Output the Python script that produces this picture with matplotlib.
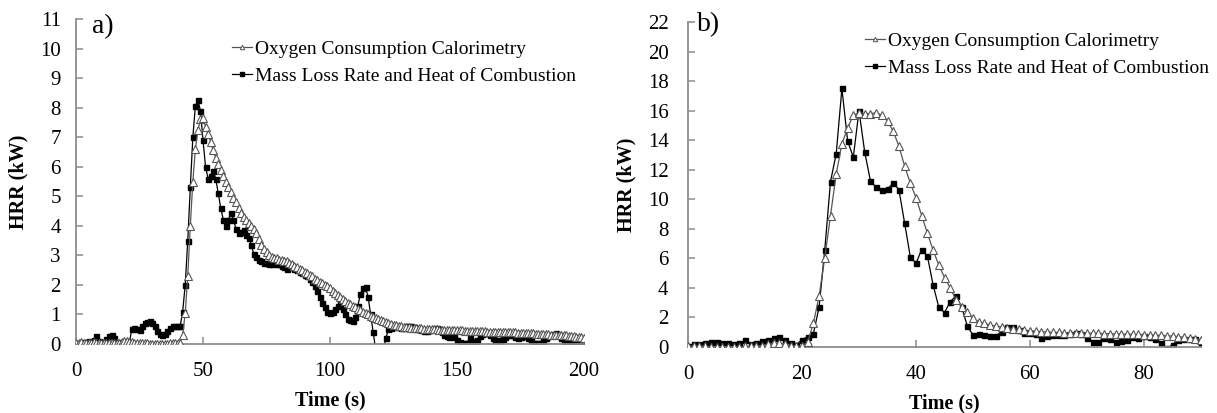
import matplotlib.pyplot as plt
from matplotlib.lines import Line2D

plt.rcParams["font.family"] = ["Liberation Serif", "DejaVu Serif"]

# ---- test a) : 0-200 s, 1 s samples ----
time_a = list(range(0, 201))
ox_a = [0.05, 0.02, 0.06, 0.03, 0.05, 0.04, 0.03, 0.06, 0.04, 0.05,
        0.04, 0.03, 0.02, 0.03, 0.02, 0.02, 0.03, 0.05, 0.08, 0.1,
        0.1, 0.08, 0.06, 0.05, 0.05, 0.04, 0.03, 0.02, 0.02, 0.01,
        0.01, 0.0, 0.0, 0.01, 0.0, 0.0, 0.01, 0.02, 0.02, 0.03,
        0.03, 0.05, 0.3, 1.05, 2.3, 4.0, 5.5, 6.6, 7.25, 7.6,
        7.65, 7.35, 7.1, 6.85, 6.55, 6.3, 6.1, 5.9, 5.7, 5.5,
        5.3, 5.15, 4.95, 4.8, 4.6, 4.45, 4.3, 4.2, 4.1, 4.0,
        3.9, 3.75, 3.55, 3.35, 3.2, 3.1, 3.0, 2.95, 2.9, 2.9,
        2.85, 2.85, 2.8, 2.8, 2.75, 2.7, 2.65, 2.6, 2.55, 2.5,
        2.45, 2.4, 2.35, 2.3, 2.2, 2.15, 2.1, 2.05, 2.0, 1.95,
        1.9, 1.8, 1.72, 1.65, 1.58, 1.52, 1.46, 1.4, 1.35, 1.3,
        1.25, 1.2, 1.15, 1.1, 1.05, 1.0, 0.96, 0.92, 0.88, 0.85,
        0.82, 0.78, 0.75, 0.72, 0.69, 0.66, 0.64, 0.62, 0.6, 0.58,
        0.57, 0.56, 0.55, 0.55, 0.54, 0.53, 0.53, 0.52, 0.52, 0.51,
        0.5, 0.5, 0.5, 0.49, 0.49, 0.48, 0.48, 0.47, 0.47, 0.47,
        0.46, 0.46, 0.46, 0.45, 0.45, 0.45, 0.44, 0.44, 0.44, 0.43,
        0.43, 0.43, 0.42, 0.42, 0.42, 0.41, 0.41, 0.41, 0.4, 0.4,
        0.4, 0.39, 0.39, 0.39, 0.38, 0.38, 0.38, 0.37, 0.37, 0.36,
        0.36, 0.35, 0.35, 0.34, 0.34, 0.33, 0.33, 0.32, 0.32, 0.31,
        0.31, 0.3, 0.3, 0.29, 0.28, 0.27, 0.26, 0.25, 0.24, 0.23,
        0.22]
ml_a = [0.02, 0.05, 0.03, 0.08, 0.05, 0.1, 0.06, 0.12, 0.28, 0.1,
        0.05, 0.08, 0.18, 0.28, 0.3, 0.2, 0.08, 0.02, 0.05, 0.08,
        0.1, 0.06, 0.5, 0.55, 0.5, 0.48, 0.6, 0.7, 0.75, 0.78,
        0.72, 0.6, 0.45, 0.35, 0.3, 0.35, 0.45, 0.55, 0.62, 0.6,
        0.62, 0.6, 1.1, 2.0, 3.5, 5.3, 7.0, 8.05, 8.25, 7.9,
        6.9, 6.0, 5.6, 5.7, 5.85, 5.6, 5.1, 4.6, 4.2, 4.0,
        4.2, 4.45, 4.2, 3.9, 3.75, 3.8, 3.85, 3.7, 3.6, 3.35,
        3.05, 2.95, 2.85, 2.8, 2.75, 2.75, 2.7, 2.72, 2.75, 2.7,
        2.72, 2.65, 2.6, 2.55, 2.6, 2.65, 2.55, 2.5, 2.45, 2.4,
        2.35, 2.3, 2.2, 2.1, 1.95, 1.8, 1.6, 1.4, 1.25, 1.1,
        1.05, 1.08, 1.2, 1.3, 1.35, 1.2, 1.0, 0.85, 0.8, 0.78,
        0.9, 1.3, 1.7, 1.9, 1.92, 1.6, 1.0, 0.4, -0.2, -0.6,
        -0.6, -0.2, 0.2, 0.5, 0.55, 0.58, 0.6, 0.58, 0.55, 0.55,
        0.6, 0.62, 0.6, 0.56, 0.52, 0.5, 0.48, 0.45, 0.45, 0.48,
        0.5, 0.52, 0.55, 0.5, 0.4, 0.32, 0.26, 0.25, 0.3, 0.25,
        0.15, 0.08, 0.03, 0.02, 0.05, 0.2, 0.1, 0.05, 0.15, 0.28,
        0.35, 0.38, 0.36, 0.3, 0.22, 0.15, 0.12, 0.12, 0.18, 0.25,
        0.3, 0.32, 0.3, 0.25, 0.22, 0.25, 0.3, 0.28, 0.2, 0.12,
        0.05, 0.02, 0.02, 0.05, 0.1, 0.2, 0.28, 0.32, 0.35, 0.36,
        0.3, 0.2, 0.1, 0.05, 0.05, 0.08, 0.1, 0.08, 0.06, 0.05,
        0.05]

# ---- test b) : 0-90 s, 1 s samples ----
time_b = list(range(0, 91))
ox_b = [0.05, 0.05, 0.05, 0.05, 0.0, 0.0, 0.0, 0.0, 0.0, 0.0,
        0.05, 0.05, 0.05, 0.1, 0.2, 0.25, 0.25, 0.2, 0.1, 0.05,
        0.05, 0.35, 1.6, 3.45, 6.05, 8.9, 11.7, 13.75, 14.8, 15.7,
        15.85, 15.8, 15.8, 15.85, 15.7, 15.3, 14.6, 13.6, 12.25, 11.1,
        10.1, 8.9, 7.7, 6.55, 5.55, 4.7, 4.0, 3.2, 2.73, 2.39,
        1.94, 1.71, 1.6, 1.5, 1.42, 1.36, 1.3, 1.25, 1.2, 1.15,
        1.1, 1.07, 1.04, 1.02, 1.0, 0.99, 0.98, 0.97, 0.96, 0.95,
        0.94, 0.93, 0.92, 0.91, 0.9, 0.89, 0.88, 0.87, 0.86, 0.85,
        0.84, 0.82, 0.8, 0.78, 0.76, 0.74, 0.7, 0.66, 0.6, 0.55,
        0.5]
ml_b = [0.1, 0.2, 0.2, 0.3, 0.35, 0.35, 0.3, 0.25, 0.2, 0.25,
        0.45, 0.2, 0.3, 0.4, 0.5, 0.6, 0.65, 0.45, 0.25, 0.15,
        0.5, 0.7, 0.9, 2.7, 6.6, 11.2, 13.07, 17.5, 13.97, 12.84,
        16.0, 13.2, 11.26, 10.8, 10.6, 10.7, 11.1, 10.65, 8.4, 6.1,
        5.66, 6.6, 6.15, 4.2, 2.7, 2.33, 3.07, 3.45, 2.73, 1.42,
        0.81, 0.85, 0.8, 0.75, 0.75, 1.04, 1.37, 1.33, 1.15, 0.97,
        0.95, 0.85, 0.59, 0.75, 0.78, 0.8, 0.8, 0.9, 0.97, 0.9,
        0.6, 0.36, 0.36, 0.6, 0.55, 0.31, 0.4, 0.5, 0.7, 0.6,
        0.75, 0.7, 0.55, 0.3, -0.1, 0.15, 0.5, 0.55, 0.55, 0.52,
        0.3]

labels = ["Oxygen Consumption Calorimetry",
          "Mass Loss Rate and Heat of Combustion"]

W, H = 1217, 413
fig = plt.figure(figsize=(W / 100, H / 100), dpi=100)


def px_box(x0, x1, y_top, y_bot):
    return [x0 / W, 1 - y_bot / H, (x1 - x0) / W, (y_bot - y_top) / H]


def style_axes(ax, xmax, xstep, ymax, ystep, ypad):
    ax.set_xlim(0, xmax)
    ax.set_ylim(0, ymax)
    ax.set_xticks(range(0, xmax + 1, xstep))
    ax.set_yticks(range(0, ymax + 1, ystep))
    for s in ("top", "right"):
        ax.spines[s].set_visible(False)
    for s in ("left", "bottom"):
        ax.spines[s].set_color("#8c8c8c")
        ax.spines[s].set_linewidth(1.3)
    ax.tick_params(axis="both", direction="in", length=5, width=1.1,
                   color="#8c8c8c", labelsize=15)
    ax.tick_params(axis="x", pad=13)
    ax.tick_params(axis="y", pad=ypad)
    ax.set_xlabel("Time (s)", fontsize=14.5, fontweight="bold", labelpad=7)
    ax.set_ylabel("HRR (kW)", fontsize=14.5, fontweight="bold", labelpad=8)


def draw(ax, t, ox, ml):
    ax.plot(t, ox, color="#555555", lw=0.9, marker="^", ms=5.5,
            mfc="white", mec="#555555", mew=0.8, zorder=3)
    ax.plot(t, ml, color="black", lw=0.9, marker="s", ms=3.6,
            mfc="black", mec="black", zorder=2)


def add_legend(ax, x_px, y_px):
    handles = [
        Line2D([], [], color="#555555", lw=0.9, marker="^", ms=3.2,
               mfc="white", mec="#555555", mew=0.7),
        Line2D([], [], color="black", lw=0.9, marker="s", ms=2.4,
               mfc="black", mec="black"),
    ]
    ax.legend(handles, labels, loc="upper left",
              bbox_to_anchor=(x_px / W, 1 - y_px / H),
              bbox_transform=fig.transFigure, frameon=False, fontsize=14,
              handlelength=1.05, handletextpad=0.15, labelspacing=0.5,
              borderpad=0, borderaxespad=0)


ax1 = fig.add_axes(px_box(76, 584, 19, 344))
draw(ax1, time_a, ox_a, ml_a)
style_axes(ax1, 200, 50, 11, 1, 11)
fig.text(92 / W, 1 - 27 / H, "a)", fontsize=20, va="center")
add_legend(ax1, 232, 40)

ax2 = fig.add_axes(px_box(688, 1201, 22, 347))
draw(ax2, time_b, ox_b, ml_b)
style_axes(ax2, 90, 20, 22, 2, 14)
fig.text(697 / W, 1 - 25 / H, "b)", fontsize=20, va="center")
add_legend(ax2, 865, 32)

fig.savefig("out.png", dpi=100)
